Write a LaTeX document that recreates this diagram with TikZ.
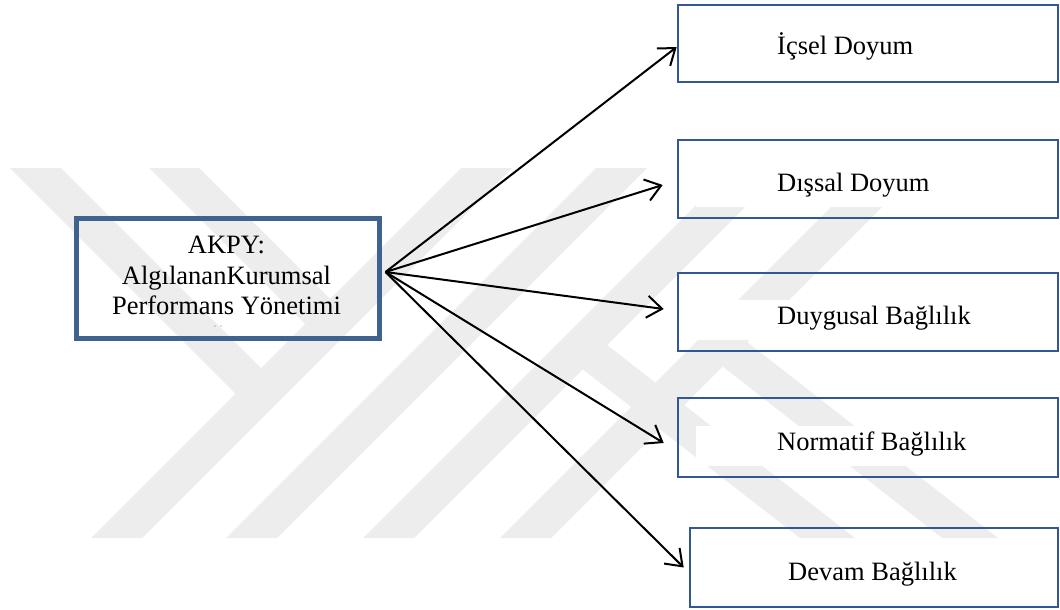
\documentclass[tikz,border=0pt]{standalone}
\usepackage{fontspec}
\setmainfont{Liberation Serif}
\usetikzlibrary{arrows.meta}

\definecolor{wmgray}{RGB}{237,237,237}
\definecolor{leftblue}{RGB}{63,98,142}
\definecolor{boxblue}{RGB}{50,86,150}

\begin{document}
\begin{tikzpicture}[x=1pt,y=-1pt,
  mainbox/.style={draw=leftblue, line width=5pt, minimum width=303pt,
    minimum height=120pt, inner sep=0pt},
  factorbox/.style={draw=boxblue, line width=2.6pt, minimum height=78pt,
    inner sep=0pt},
  lbl/.style={inner sep=0pt, font=\fontsize{26.5}{30.5}\selectfont},
  link/.style={line width=2pt, -{Straight Barb[length=15pt,width=22pt]}}]

% page
\fill[white] (0,0) rectangle (1060,610);
\useasboundingbox (0,0) rectangle (1060,610);

% faint emblem in the background
\begin{scope}[wmgray]
  % first letter: long rising bar with two arms
  \fill (91,538) -- (142,538) -- (512,168) -- (461,168) -- cycle;
  \fill (10,168) -- (61,168) -- (261,368) -- (235.5,393.5) -- cycle;
  \fill (149,168) -- (199,168) -- (330,299) -- (305,324) -- cycle;
  % second rising bar
  \fill (226,538) -- (277,538) -- (647,168) -- (596,168) -- cycle;
  % rising bars with falling legs
  \fill (363,538) -- (414,538) -- (784,168) -- (733,168) -- cycle;
  \fill (800,538) -- (855,538) -- (607,345) -- (554,347) -- cycle;
  \fill (500,538) -- (551,538) -- (921,168) -- (870,168) -- cycle;
  \fill (942,538) -- (998,538) -- (747,342) -- (694,344) -- cycle;
\end{scope}

% white text frames inside the factor boxes
\fill[white] (696,31) rectangle (1044,71);
\fill[white] (696,167) rectangle (1044,207);
\fill[white] (696,300) rectangle (1044,340);
\fill[white] (696,426) rectangle (1044,466);
\fill[white] (708,556) rectangle (1056,596);

% source construct
\node[mainbox] (akpy) at (227.5,278) {};
\node[lbl, align=center] (akpytext) at (226.5,275.8)
  {AKPY:\\AlgılananKurumsal\\Performans Yönetimi};
\fill[black!55] (215,326) circle (0.7pt);
\fill[black!55] (221,326) circle (0.7pt);

% outcome constructs
\node[factorbox, minimum width=380pt, minimum height=77pt] (d1) at (868,43.5) {};
\node[factorbox, minimum width=380pt] (d2) at (868,179) {};
\node[factorbox, minimum width=380pt] (d3) at (868,312) {};
\node[factorbox, minimum width=380pt, minimum height=79pt] (d4) at (868,437.5) {};
\node[factorbox, minimum width=368pt, minimum height=79pt] (d5) at (874,567.5) {};

\node[lbl, anchor=base west] (t1) at (777,55) {İçsel Doyum};
\node[lbl, anchor=base west] (t2) at (777,191) {Dışsal Doyum};
\node[lbl, anchor=base west] (t3) at (777,324) {Duygusal Bağlılık};
\node[lbl, anchor=base west] (t4) at (777,450) {Normatif Bağlılık};
\node[lbl, anchor=base west] (t5) at (788,580) {Devam Bağlılık};

% arrows fanning out from the right side of the source box
\coordinate (hub) at ([xshift=4pt,yshift=6pt]akpy.east);
\draw[link] (hub) -- ([yshift=-3.5pt]d1.west);
\draw[link] (hub) -- ([xshift=-14pt,yshift=-6pt]d2.west);
\draw[link] (hub) -- ([xshift=-13pt,yshift=3pt]d3.west);
\draw[link] (hub) -- ([xshift=-13pt,yshift=-5.5pt]d4.west);
\draw[link] (hub) -- ([xshift=-5pt]d5.west);
\end{tikzpicture}
\end{document}
